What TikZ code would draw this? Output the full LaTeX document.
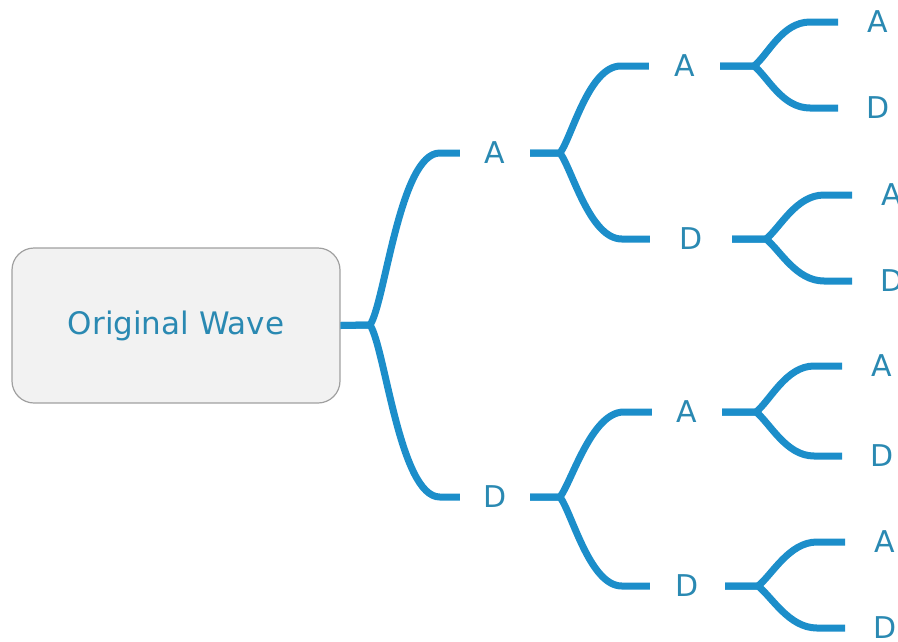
\documentclass[tikz,border=0pt]{standalone}
\usepackage{fontspec}
\setmainfont{DejaVu Sans}
\usetikzlibrary{calc}
\definecolor{wire}{RGB}{28,142,202}
\definecolor{ink}{RGB}{42,137,178}
\definecolor{boxfill}{RGB}{242,242,242}
\definecolor{boxline}{RGB}{160,160,160}
\begin{document}
\begin{tikzpicture}[x=1pt,y=-1pt,
  conn/.style={line width=7pt, draw=wire, line join=round},
  rootbox/.style={draw=boxline, line width=1.2pt, fill=boxfill, rounded corners=22pt,
    minimum width=328pt, minimum height=155pt, inner sep=0pt,
    font=\fontsize{31}{36}\selectfont, text=ink},
  letter/.style={inner sep=0pt, minimum height=24pt, font=\fontsize{30}{34}\selectfont, text=ink},
  leaf/.style={letter, anchor=west, minimum width=80pt}]
\useasboundingbox (0,0) rectangle (898,641);

% root
\node[rootbox] (root) at (176,325.5) {\raisebox{-2pt}{Original Wave}};
\coordinate (j0) at (370,325);

% first level
\node[letter, minimum width=70pt] (a) at (495,153) {A};
\node[letter, minimum width=70pt] (d) at (495,497) {D};
\coordinate (ja) at (560,153);
\coordinate (jd) at (560,497);

% second level
\node[letter, minimum width=71pt] (aa) at (684.5,66) {A};
\node[letter, minimum width=82pt] (ad) at (691,239) {D};
\node[letter, minimum width=70pt] (da) at (687,412) {A};
\node[letter, minimum width=75pt] (dd) at (687.5,586) {D};
\coordinate (jaa) at (754,66);
\coordinate (jad) at (766,239);
\coordinate (jda) at (756,412);
\coordinate (jdd) at (758,586);

% third level
\node[leaf] (aaa) at (838,22) {A};
\node[leaf] (aad) at (838,108) {D};
\node[leaf] (ada) at (852,195) {A};
\node[leaf] (add) at (852,281) {D};
\node[leaf] (daa) at (842,366) {A};
\node[leaf] (dad) at (842,456) {D};
\node[leaf] (dda) at (845,542) {A};
\node[leaf] (ddd) at (845,628) {D};

% root forks
\draw[conn] (root.east) -- (j0) .. controls +(15,-22) and +(-40,0) .. ([xshift=-20pt]a.west) -- (a.west);
\draw[conn] (root.east) -- (j0) .. controls +(15,22) and +(-40,0) .. ([xshift=-20pt]d.west) -- (d.west);

% first-level forks
\draw[conn] (a.east) -- (ja) .. controls +(12,-16) and +(-32,0) .. ([xshift=-28pt]aa.west) -- (aa.west);
\draw[conn] (a.east) -- (ja) .. controls +(12,16) and +(-32,0) .. ([xshift=-28pt]ad.west) -- (ad.west);
\draw[conn] (d.east) -- (jd) .. controls +(12,-16) and +(-32,0) .. ([xshift=-28pt]da.west) -- (da.west);
\draw[conn] (d.east) -- (jd) .. controls +(12,16) and +(-32,0) .. ([xshift=-28pt]dd.west) -- (dd.west);

% second-level forks
\foreach \p/\u/\l in {aa/aaa/aad, ad/ada/add, da/daa/dad, dd/dda/ddd}{
  \draw[conn] (\p.east) -- (j\p) .. controls +(14,-11) and +(-28,0) .. ([xshift=-28pt]\u.west) -- (\u.west);
  \draw[conn] (\p.east) -- (j\p) .. controls +(14,11) and +(-28,0) .. ([xshift=-28pt]\l.west) -- (\l.west);
}
\end{tikzpicture}
\end{document}
